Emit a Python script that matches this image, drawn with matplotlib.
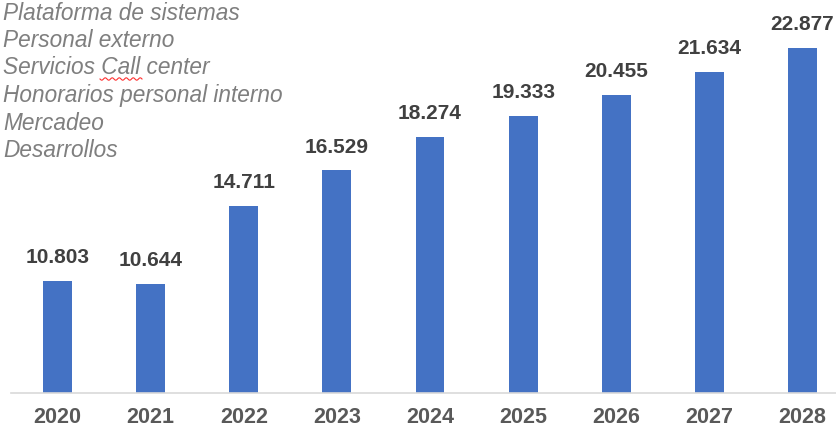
import numpy as np
from matplotlib import pyplot as plt

# datos del gráfico
years = ["2020", "2021", "2022", "2023", "2024", "2025", "2026", "2027", "2028"]
totals = [10803, 10644, 14711, 16529, 18274, 19333, 20455, 21634, 22877]
concepts = ["Plataforma de sistemas", "Personal externo", "Servicios Call center",
            "Honorarios personal interno", "Mercadeo", "Desarrollos"]

def fmt_es(v):
    # separador de miles con punto
    return f"{v:,}".replace(",", ".")

W, H = 836, 429
fig = plt.figure(figsize=(W / 100, H / 100), dpi=100)
ax = fig.add_axes([11 / W, (H - 393) / H, 1 - 11 / W, (393 - 7) / H])

x = np.arange(len(years))
ax.bar(x, totals, width=0.31, color="#4472C4")
ax.set_xlim(-0.5, 8.36)
ax.set_ylim(5000, 25000)

for xi, v in zip(x, totals):
    ax.annotate(fmt_es(v), (xi, v), xytext=(0, 10), textcoords="offset points",
                ha="center", va="bottom", fontsize=15, fontweight="bold",
                color="#404040", family="Liberation Sans")

ax.set_xticks(x)
ax.set_xticklabels(years, fontsize=15.5, fontweight="bold", color="#595959",
                   family="Liberation Sans")
ax.tick_params(axis="x", length=0, pad=10)
ax.set_yticks([])
for s in ["top", "right", "left"]:
    ax.spines[s].set_visible(False)
ax.spines["bottom"].set_color("#d9d9d9")
ax.spines["bottom"].set_linewidth(1.2)

# lista de conceptos arriba a la izquierda
for i, name in enumerate(concepts):
    fig.text(3 / W, 1 - (13 + 27.5 * i) / H, name, ha="left", va="center",
             fontsize=16.3, style="italic", color="#7f7f7f",
             family="Liberation Sans")

# subrayado ondulado rojo bajo "Call"
wx = np.linspace(100, 142, 60)
wy = 79 + 1.2 * np.sin((wx - 100) / 42 * 2 * np.pi * 6)
fig.add_artist(plt.Line2D(wx / W, 1 - wy / H, color="#ff3030", linewidth=0.8,
                          transform=fig.transFigure))

plt.savefig("out.png", dpi=100)
